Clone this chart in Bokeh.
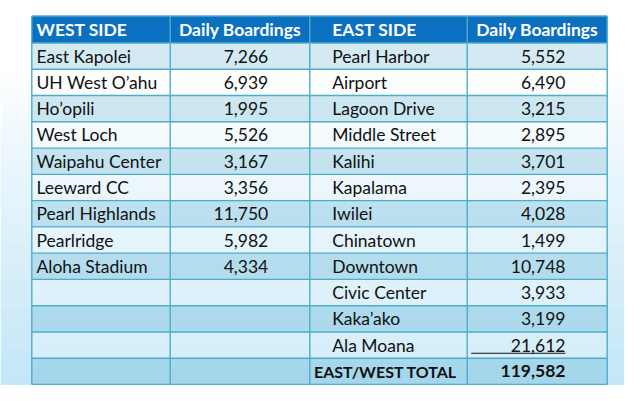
import numpy as np
from bokeh.plotting import figure
from bokeh.models import Range1d, ColumnDataSource
from bokeh.core.properties import value
from bokeh.embed import file_html
from bokeh.resources import INLINE

# ---- data ----
west_header = ["WEST SIDE", "Daily Boardings"]
east_header = ["EAST SIDE", "Daily Boardings"]
west_stations = ["East Kapolei", "UH West O\u2019ahu", "Ho\u2019opili", "West Loch",
                 "Waipahu Center", "Leeward CC", "Pearl Highlands", "Pearlridge",
                 "Aloha Stadium"]
west_boardings = [7266, 6939, 1995, 5526, 3167, 3356, 11750, 5982, 4334]
east_stations = ["Pearl Harbor", "Airport", "Lagoon Drive", "Middle Street", "Kalihi",
                 "Kapalama", "Iwilei", "Chinatown", "Downtown", "Civic Center",
                 "Kaka\u2019ako", "Ala Moana"]
east_boardings = [5552, 6490, 3215, 2895, 3701, 2395, 4028, 1499, 10748, 3933,
                  3199, 21612]
total_label = "EAST/WEST TOTAL"
total_value = 119582

# ---- layout (picture pixel coordinates) ----
W, H = 624, 385
p = figure(width=W, height=H, output_backend="svg", toolbar_location=None,
           x_range=Range1d(0, W), y_range=Range1d(H, 0),
           min_border=0, outline_line_color=None)
p.axis.visible = False
p.grid.visible = False
p.background_fill_color = "white"
p.border_fill_color = "white"

# background gradient
ys = np.arange(0, H + 2, 2.0)
t = np.clip((ys - 70) / 330.0, 0, 1) ** 0.9
top = np.array([255, 255, 255])
bot = np.array([188, 228, 247])
cols = ["#%02x%02x%02x" % tuple((top * (1 - k) + bot * k).astype(int)) for k in t]
p.quad(left=0, right=W, top=ys, bottom=ys + 2.2, fill_color=cols, line_color=None)

xs = [31.3, 169.7, 309.3, 466.7, 606.7]
header_top, header_bot = 15.5, 42.5
table_bot = 384.0
n_rows = len(east_stations) + 1
row_h = (table_bot - header_bot) / n_rows
row_tops = [header_bot + i * row_h for i in range(n_rows)]

# header
p.quad(left=xs[0], right=xs[-1], top=header_top, bottom=header_bot,
       fill_color="#0b70bf", line_color=None)
# rows
blue_rows = row_tops[0::2]
white_rows = row_tops[1::2]
p.quad(left=xs[0], right=xs[-1], top=blue_rows, bottom=[r + row_h for r in blue_rows],
       fill_color="#2a96be", fill_alpha=0.2, line_color=None)
p.quad(left=xs[0], right=xs[-1], top=white_rows, bottom=[r + row_h for r in white_rows],
       fill_color="white", fill_alpha=0.25, line_color=None)

# grid lines
lc = "#4eaccb"
hy = [header_top, header_bot] + [r + row_h for r in row_tops]
p.segment(x0=xs[0], x1=xs[-1], y0=hy, y1=hy, line_color=lc, line_width=1.4)
p.segment(x0=xs, x1=xs, y0=header_top, y1=table_bot, line_color=lc, line_width=1.4)

font = value("Lato")
fs = "17.5px"
mid = lambda i: row_tops[i] + row_h / 2

# header text
hmid = (header_top + header_bot) / 2
p.text(x=[36, 331.7], y=[hmid, hmid], text=[west_header[0], east_header[0]],
       text_font=font, text_font_size=fs, text_font_style="bold", text_color="white",
       text_align="left", text_baseline="middle")
p.text(x=[(xs[1] + xs[2]) / 2, (xs[3] + xs[4]) / 2], y=[hmid, hmid],
       text=[west_header[1], east_header[1]],
       text_font=font, text_font_size=fs, text_font_style="bold", text_color="white",
       text_align="center", text_baseline="middle")

# west
src_w = ColumnDataSource(dict(y=[mid(i) for i in range(len(west_stations))],
                              name=west_stations,
                              val=[f"{v:,}" for v in west_boardings]))
p.text(x=36, y="y", text="name", source=src_w, text_font=font, text_font_size=fs,
       text_color="#111111", text_align="left", text_baseline="middle")
p.text(x=267.7, y="y", text="val", source=src_w, text_font=font, text_font_size=fs,
       text_color="#111111", text_align="right", text_baseline="middle")

# east
src_e = ColumnDataSource(dict(y=[mid(i) for i in range(len(east_stations))],
                              name=east_stations,
                              val=[f"{v:,}" for v in east_boardings]))
p.text(x=331.7, y="y", text="name", source=src_e, text_font=font, text_font_size=fs,
       text_color="#111111", text_align="left", text_baseline="middle")
p.text(x=565, y="y", text="val", source=src_e, text_font=font, text_font_size=fs,
       text_color="#111111", text_align="right", text_baseline="middle")

# underline under last east value
ly = row_tops[len(east_stations) - 1] + row_h - 5
p.segment(x0=[470.7], x1=[565], y0=[ly], y1=[ly], line_color="#111111", line_width=1.2)

# total row
ty = mid(n_rows - 1)
p.text(x=[313.5], y=[ty], text=[total_label], text_font=font, text_font_size="16px",
       text_font_style="bold", text_color="#111111", text_align="left",
       text_baseline="middle")
p.text(x=[565], y=[ty], text=[f"{total_value:,}"], text_font=font, text_font_size=fs,
       text_font_style="bold", text_color="#111111", text_align="right",
       text_baseline="middle")

open("out.html", "w").write(file_html(p, INLINE))
